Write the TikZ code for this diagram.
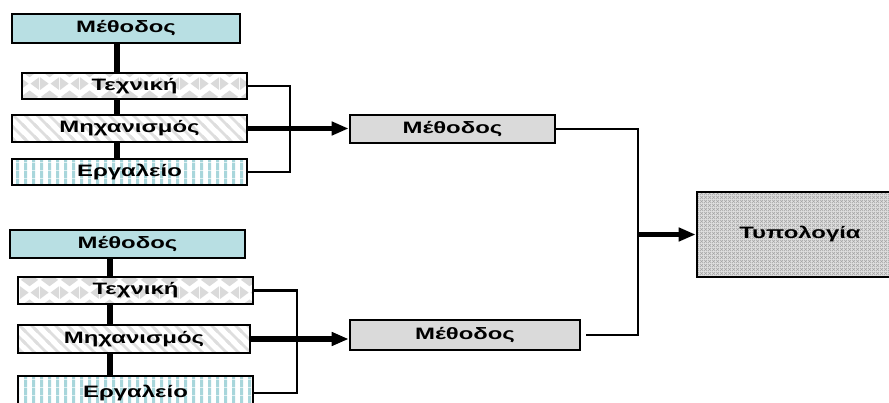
\documentclass[tikz,border=0pt]{standalone}
\usepackage{fontspec}
\setmainfont{Liberation Sans}
\newfontfamily\gf[FakeStretch=1.45]{Liberation Sans}
\usetikzlibrary{arrows.meta,patterns}
\definecolor{tealfill}{RGB}{184,223,227}
\definecolor{stripeteal}{RGB}{168,214,219}
\definecolor{boxgray}{RGB}{218,218,218}
\definecolor{diamgray}{RGB}{218,218,218}
\definecolor{diaggray}{RGB}{222,222,222}
\definecolor{typgray}{RGB}{165,165,165}
\pgfdeclarepatternformonly{vstripes}{\pgfqpoint{0pt}{0pt}}{\pgfqpoint{8pt}{8pt}}{\pgfqpoint{8pt}{8pt}}{%
  \pgfpathrectangle{\pgfqpoint{0pt}{0pt}}{\pgfqpoint{3.5pt}{8pt}}\pgfusepath{fill}}
\pgfdeclarepatternformonly{dstripes}{\pgfqpoint{-2pt}{-2pt}}{\pgfqpoint{14pt}{14pt}}{\pgfqpoint{12pt}{12pt}}{%
  \pgfsetlinewidth{2.8pt}%
  \pgfpathmoveto{\pgfqpoint{0pt}{12pt}}\pgfpathlineto{\pgfqpoint{12pt}{0pt}}%
  \pgfpathmoveto{\pgfqpoint{-2pt}{2pt}}\pgfpathlineto{\pgfqpoint{2pt}{-2pt}}%
  \pgfpathmoveto{\pgfqpoint{10pt}{14pt}}\pgfpathlineto{\pgfqpoint{14pt}{10pt}}%
  \pgfusepath{stroke}}
\pgfdeclarepatternformonly{diamonds}{\pgfqpoint{0pt}{0pt}}{\pgfqpoint{20pt}{26pt}}{\pgfqpoint{20pt}{26pt}}{%
  \pgfpathmoveto{\pgfqpoint{10pt}{13pt}}\pgfpathlineto{\pgfqpoint{19pt}{19.5pt}}%
  \pgfpathlineto{\pgfqpoint{10pt}{26pt}}\pgfpathlineto{\pgfqpoint{1pt}{19.5pt}}\pgfpathclose
  \pgfpathmoveto{\pgfqpoint{0pt}{0pt}}\pgfpathlineto{\pgfqpoint{9pt}{6.5pt}}%
  \pgfpathlineto{\pgfqpoint{0pt}{13pt}}\pgfpathclose
  \pgfpathmoveto{\pgfqpoint{20pt}{0pt}}\pgfpathlineto{\pgfqpoint{20pt}{13pt}}%
  \pgfpathlineto{\pgfqpoint{11pt}{6.5pt}}\pgfpathclose
  \pgfusepath{fill}}
\pgfdeclarepatternformonly{fineweave}{\pgfqpoint{0pt}{0pt}}{\pgfqpoint{4pt}{4pt}}{\pgfqpoint{4pt}{4pt}}{%
  \pgfsetlinewidth{0.8pt}%
  \pgfpathmoveto{\pgfqpoint{0pt}{0pt}}\pgfpathlineto{\pgfqpoint{4pt}{4pt}}%
  \pgfpathmoveto{\pgfqpoint{0pt}{4pt}}\pgfpathlineto{\pgfqpoint{4pt}{0pt}}%
  \pgfusepath{stroke}}
\begin{document}
\begin{tikzpicture}[x=1pt,y=-1pt,
  box/.style={draw=black, line width=2.6pt, inner sep=0pt,
    font=\gf\bfseries\fontsize{16.5}{19}\selectfont},
  bmethod/.style={box, fill=tealfill},
  bgray/.style={box, fill=boxgray},
  btech/.style={box, preaction={fill=white}, pattern=diamonds, pattern color=diamgray},
  bmech/.style={box, preaction={fill=white}, pattern=dstripes, pattern color=diaggray},
  btool/.style={box, preaction={fill=white}, pattern=vstripes, pattern color=stripeteal},
  btyp/.style={box, preaction={fill=white!88!black}, pattern=fineweave, pattern color=typgray},
  thinln/.style={line width=2.4pt},
  thickln/.style={line width=5.5pt},
  arr/.style={thickln, -{Triangle[length=17pt,width=13pt]}}]
\useasboundingbox (0,0) rectangle (889,402);

% top group
\node[bmethod, minimum width=228pt, minimum height=29pt] (M1) at (126,28.5) {Μέθοδος};
\node[btech, minimum width=225pt, minimum height=26pt] (T1) at (134.5,86) {Τεχνική};
\node[bmech, minimum width=235pt, minimum height=27pt] (H1) at (129.5,128.5) {Μηχανισμός};
\node[btool, minimum width=235pt, minimum height=26pt] (E1) at (129.5,172) {Εργαλείο};

% bottom group
\node[bmethod, minimum width=235pt, minimum height=28pt] (M2) at (127.5,244) {Μέθοδος};
\node[btech, minimum width=235pt, minimum height=27pt] (T2) at (135.5,290.5) {Τεχνική};
\node[bmech, minimum width=232pt, minimum height=28pt] (H2) at (134,339) {Μηχανισμός};
\node[btool, minimum width=235pt, minimum height=34pt] (E2) at (135.5,393) {Εργαλείο};

% middle and right
\node[bgray, minimum width=205pt, minimum height=28pt] (MA) at (452.5,129) {Μέθοδος};
\node[bgray, minimum width=230pt, minimum height=30pt] (MB) at (465,335) {Μέθοδος};
\node[btyp, minimum width=206pt, minimum height=85pt] (TY) at (800,234.5) {Τυπολογία};

\coordinate (s1) at (117,0);
\coordinate (s2) at (110,0);
\coordinate (b1) at (290,0);
\coordinate (b2) at (297,0);
\coordinate (j) at (638,0);

% spines
\draw[thickln] (M1.south -| s1) -- (T1.north -| s1);
\draw[thickln] (T1.south -| s1) -- (H1.north -| s1);
\draw[thickln] (H1.south -| s1) -- (E1.north -| s1);
\draw[thickln] (M2.south -| s2) -- (T2.north -| s2);
\draw[thickln] (T2.south -| s2) -- (H2.north -| s2);
\draw[thickln] (H2.south -| s2) -- (E2.north -| s2);

% brackets
\draw[thinln] (T1.east) -| (b1 |- E1.east) -- (E1.east);
\draw[thinln] (T2.east) -| (b2 |- E2.east) -- (E2.east);

% arrows to the Μέθοδος boxes
\draw[arr] (H1.east) -- (H1.east -| MA.west);
\draw[arr] (H2.east) -- (H2.east -| MB.west);

% outputs
\draw[thinln] (MA.east) -| (j |- MB.east) -- ([xshift=5pt]MB.east);
\draw[arr] (j |- TY.west) -- (TY.west);
\end{tikzpicture}
\end{document}
